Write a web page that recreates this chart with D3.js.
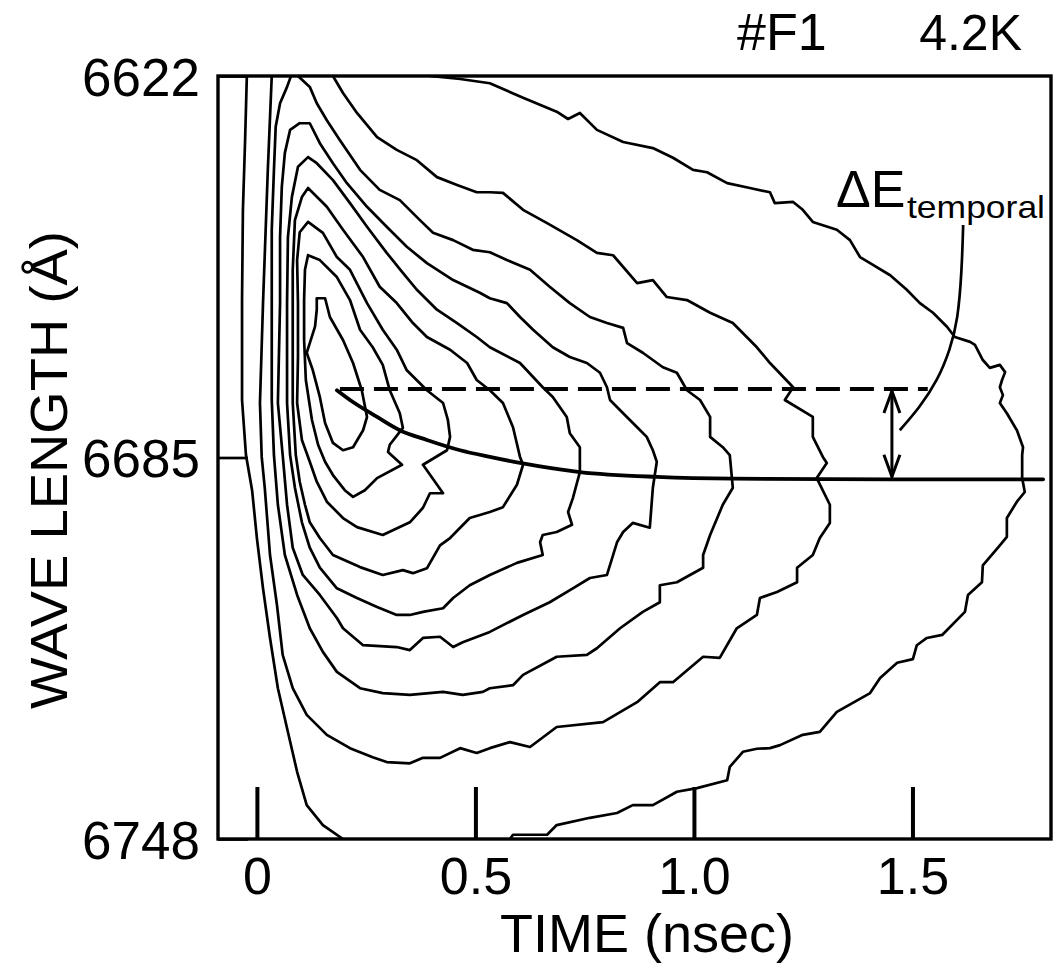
<!DOCTYPE html>
<html><head><meta charset="utf-8">
<script src="https://cdn.jsdelivr.net/npm/d3@7"></script>
<style>
body{margin:0;background:#fff}
svg{display:block}
text{font-family:"Liberation Sans",Arial,sans-serif;fill:#000}
</style>
</head><body>
<svg id="chart" width="1060" height="963"></svg>
<script>
// ---------- data (time in ns, wavelength in Å) ----------
const timeTicks = [0, 0.5, 1.0, 1.5];
const timeTickLabels = ["0", "0.5", "1.0", "1.5"];
const waveTicks = [6622, 6685, 6748];
const waveTickLabels = ["6622", "6685", "6748"];

// contour levels, innermost (1) to outermost (9)
const contour1 = [[0.137,6658.7],[0.156,6658.7],[0.167,6661.8],[0.197,6665.6],[0.220,6669.4],[0.240,6673.9],[0.252,6678.3],[0.243,6680.5],[0.220,6683.3],[0.197,6683.8],[0.174,6682.6],[0.156,6679.3],[0.144,6675.0],[0.128,6670.6],[0.114,6667.7],[0.121,6666.1],[0.133,6663.4],[0.137,6660.6],[0.137,6658.7]];
const contour2 = [[0.117,6651.6],[0.144,6652.4],[0.183,6655.2],[0.213,6659.0],[0.236,6663.9],[0.265,6666.8],[0.288,6669.7],[0.304,6673.9],[0.327,6677.7],[0.334,6680.1],[0.304,6682.9],[0.300,6684.1],[0.332,6686.2],[0.275,6688.4],[0.247,6690.4],[0.220,6691.5],[0.201,6690.4],[0.174,6687.9],[0.156,6685.7],[0.140,6682.9],[0.126,6678.8],[0.112,6672.2],[0.108,6665.6],[0.108,6659.0],[0.110,6654.0],[0.117,6651.6]];
const contour3 = [[0.117,6646.1],[0.151,6647.9],[0.183,6651.9],[0.213,6654.0],[0.252,6659.5],[0.288,6663.9],[0.320,6667.2],[0.343,6670.6],[0.389,6673.9],[0.426,6676.0],[0.437,6678.8],[0.442,6681.6],[0.435,6683.8],[0.380,6686.2],[0.426,6690.9],[0.396,6690.9],[0.380,6693.3],[0.350,6695.7],[0.288,6697.8],[0.229,6696.5],[0.197,6695.0],[0.160,6692.3],[0.137,6689.0],[0.121,6685.7],[0.103,6682.1],[0.092,6676.0],[0.094,6668.4],[0.094,6659.5],[0.092,6652.4],[0.098,6647.8],[0.117,6646.1]];
const contour4 = [[0.117,6640.5],[0.160,6643.6],[0.197,6647.4],[0.243,6651.9],[0.281,6656.8],[0.320,6659.5],[0.357,6662.8],[0.389,6665.1],[0.442,6667.2],[0.481,6669.4],[0.503,6672.2],[0.533,6673.9],[0.563,6676.0],[0.586,6680.0],[0.602,6684.9],[0.609,6686.2],[0.595,6689.5],[0.563,6693.2],[0.533,6694.0],[0.487,6695.0],[0.442,6698.3],[0.419,6699.5],[0.389,6703.3],[0.357,6704.1],[0.334,6703.6],[0.288,6704.4],[0.236,6703.1],[0.174,6701.1],[0.144,6698.3],[0.121,6695.7],[0.110,6692.8],[0.098,6689.0],[0.089,6684.6],[0.082,6676.0],[0.082,6665.1],[0.082,6654.0],[0.087,6645.8],[0.103,6642.0],[0.117,6640.5]];
const contour5 = [[0.117,6635.4],[0.137,6636.4],[0.174,6639.2],[0.213,6643.0],[0.252,6646.9],[0.297,6651.2],[0.334,6654.5],[0.366,6657.3],[0.412,6660.6],[0.458,6662.8],[0.503,6665.1],[0.533,6666.8],[0.602,6669.4],[0.654,6673.4],[0.677,6675.0],[0.709,6678.3],[0.716,6681.0],[0.739,6683.3],[0.739,6687.4],[0.723,6691.7],[0.712,6694.0],[0.721,6696.1],[0.686,6697.3],[0.654,6697.8],[0.648,6699.0],[0.654,6701.1],[0.595,6702.4],[0.533,6704.4],[0.487,6706.1],[0.449,6708.2],[0.426,6709.9],[0.380,6710.5],[0.350,6711.0],[0.320,6711.0],[0.275,6709.7],[0.229,6708.2],[0.183,6706.6],[0.144,6703.2],[0.121,6699.9],[0.103,6695.7],[0.087,6690.0],[0.076,6684.6],[0.069,6676.0],[0.069,6659.5],[0.071,6648.6],[0.080,6642.0],[0.094,6637.0],[0.117,6635.4]];
const contour6 = [[0.098,6629.8],[0.121,6629.8],[0.144,6633.1],[0.174,6636.4],[0.206,6639.7],[0.252,6643.6],[0.297,6646.9],[0.343,6650.2],[0.389,6652.9],[0.449,6655.7],[0.510,6657.8],[0.533,6658.7],[0.572,6659.5],[0.602,6661.8],[0.632,6663.9],[0.677,6666.8],[0.716,6668.4],[0.755,6669.4],[0.785,6671.0],[0.801,6673.4],[0.808,6675.5],[0.838,6677.7],[0.870,6680.0],[0.892,6681.6],[0.906,6683.8],[0.915,6685.7],[0.906,6690.0],[0.899,6696.6],[0.860,6695.8],[0.838,6697.3],[0.824,6699.0],[0.801,6704.4],[0.762,6704.9],[0.723,6706.6],[0.670,6708.9],[0.609,6711.0],[0.533,6713.8],[0.471,6715.5],[0.449,6716.3],[0.419,6714.6],[0.380,6714.8],[0.350,6716.8],[0.320,6716.3],[0.243,6716.0],[0.197,6713.2],[0.183,6711.5],[0.144,6707.7],[0.105,6704.4],[0.082,6699.9],[0.069,6692.8],[0.059,6684.6],[0.048,6676.0],[0.053,6659.5],[0.053,6648.6],[0.057,6640.3],[0.064,6634.7],[0.076,6630.9],[0.098,6629.8]];
const contour7 = [[0.078,6622.0],[0.069,6623.8],[0.053,6626.5],[0.043,6630.4],[0.039,6637.5],[0.034,6647.4],[0.034,6659.5],[0.034,6675.5],[0.039,6684.6],[0.048,6692.8],[0.064,6701.1],[0.092,6707.7],[0.121,6713.2],[0.151,6717.1],[0.183,6720.4],[0.236,6723.1],[0.288,6723.9],[0.350,6724.2],[0.426,6723.7],[0.471,6724.2],[0.517,6723.7],[0.533,6723.1],[0.586,6722.6],[0.609,6720.9],[0.686,6717.9],[0.755,6717.6],[0.778,6716.5],[0.831,6713.2],[0.883,6710.5],[0.922,6708.9],[0.922,6706.1],[0.961,6705.6],[1.021,6703.2],[1.021,6701.1],[1.037,6697.8],[1.066,6692.8],[1.089,6690.0],[1.082,6684.6],[1.066,6683.3],[1.037,6681.6],[1.037,6678.3],[1.014,6675.5],[0.984,6673.9],[0.961,6671.0],[0.929,6670.1],[0.883,6667.7],[0.847,6666.1],[0.838,6663.6],[0.801,6662.8],[0.762,6661.8],[0.716,6659.5],[0.670,6656.8],[0.625,6654.0],[0.572,6652.4],[0.533,6651.1],[0.494,6650.7],[0.449,6649.1],[0.403,6647.9],[0.373,6645.8],[0.327,6642.5],[0.281,6640.8],[0.236,6637.5],[0.190,6632.6],[0.160,6629.3],[0.137,6626.5],[0.121,6623.8],[0.094,6622.0]];
const contour8 = [[0.034,6622.0],[0.025,6637.5],[0.014,6659.5],[0.007,6676.0],[0.011,6684.9],[0.018,6690.0],[0.030,6701.1],[0.046,6709.4],[0.059,6717.6],[0.082,6723.1],[0.114,6727.5],[0.160,6730.8],[0.213,6733.0],[0.265,6734.5],[0.297,6735.3],[0.350,6735.5],[0.380,6734.6],[0.419,6734.6],[0.465,6733.0],[0.503,6733.8],[0.533,6733.0],[0.579,6732.0],[0.625,6732.8],[0.686,6729.5],[0.792,6728.7],[0.870,6725.4],[0.922,6722.1],[0.952,6722.1],[1.021,6717.9],[1.059,6718.1],[1.098,6713.2],[1.144,6711.0],[1.151,6708.2],[1.190,6707.2],[1.236,6705.6],[1.236,6703.2],[1.272,6701.1],[1.288,6698.3],[1.311,6695.8],[1.311,6692.8],[1.281,6688.4],[1.304,6685.9],[1.295,6684.9],[1.272,6681.6],[1.272,6678.3],[1.208,6675.5],[1.227,6673.4],[1.174,6669.4],[1.144,6666.8],[1.089,6662.8],[1.037,6661.1],[0.984,6659.0],[0.938,6658.5],[0.906,6655.7],[0.870,6656.2],[0.815,6651.6],[0.778,6651.2],[0.732,6649.1],[0.664,6646.3],[0.609,6644.1],[0.563,6641.3],[0.533,6641.2],[0.503,6641.2],[0.458,6640.0],[0.412,6638.7],[0.366,6635.9],[0.320,6634.2],[0.275,6632.1],[0.229,6628.1],[0.197,6624.8],[0.174,6622.0]];
const contour9Left = [[-0.023,6622.0],[-0.027,6632.6],[-0.032,6644.1],[-0.034,6659.0],[-0.034,6675.5],[-0.025,6684.6],[-0.011,6690.4],[0.000,6698.3],[0.014,6706.6],[0.030,6714.8],[0.048,6723.1],[0.069,6729.7],[0.092,6736.9],[0.114,6742.4],[0.151,6745.7],[0.197,6748.0]];
const contour9Right = [[0.396,6622.0],[0.465,6622.5],[0.533,6623.2],[0.609,6625.6],[0.686,6627.9],[0.712,6629.1],[0.739,6628.1],[0.778,6630.9],[0.838,6632.9],[0.906,6633.9],[0.952,6635.5],[0.998,6637.5],[1.030,6637.9],[1.076,6639.7],[1.128,6640.5],[1.174,6641.2],[1.185,6643.0],[1.227,6642.8],[1.249,6644.1],[1.272,6646.1],[1.327,6647.4],[1.357,6649.1],[1.380,6651.9],[1.403,6652.9],[1.449,6654.9],[1.487,6657.3],[1.517,6659.5],[1.547,6661.1],[1.579,6663.4],[1.597,6665.1],[1.632,6665.9],[1.643,6666.4],[1.661,6668.9],[1.677,6670.2],[1.700,6669.7],[1.712,6670.9],[1.705,6672.2],[1.700,6673.4],[1.707,6674.7],[1.700,6676.0],[1.716,6677.7],[1.739,6680.5],[1.753,6683.3],[1.751,6684.6],[1.751,6688.4],[1.757,6690.7],[1.739,6692.3],[1.716,6695.0],[1.716,6698.1],[1.700,6699.5],[1.661,6702.8],[1.659,6705.6],[1.627,6707.7],[1.620,6710.5],[1.568,6714.3],[1.533,6714.8],[1.510,6716.0],[1.501,6718.3],[1.465,6718.9],[1.426,6721.4],[1.403,6723.9],[1.327,6727.0],[1.288,6730.3],[1.249,6730.8],[1.197,6732.5],[1.174,6733.0],[1.144,6733.1],[1.112,6733.6],[1.082,6736.1],[1.076,6738.3],[1.007,6739.6],[0.961,6740.2],[0.906,6742.4],[0.860,6742.4],[0.824,6743.7],[0.762,6744.5],[0.686,6745.7],[0.664,6747.3],[0.586,6747.3],[0.579,6748.0]];

// peak-position decay curve
const peakTimes  = [0.183,0.213,0.275,0.327,0.389,0.465,0.533,0.602,0.739,0.915,1.089,1.471,1.799];
const peakWaves  = [6673.9,6675.5,6678.3,6680.5,6682.1,6683.8,6684.9,6685.9,6687.4,6688.2,6688.5,6688.6,6688.6];
// initial peak level (dashed) and ΔE arrow
const dashedLevel = 6673.7;
const dashedRange = [0.19, 1.535];
const arrowTime = 1.453;
const arrowRange = [6673.7, 6688.5];
// leader line from label to arrow
const leaderPts = [[1.616,6646.6],[1.613,6654.0],[1.604,6662.3],[1.586,6667.2],[1.558,6672.2],[1.517,6676.7],[1.471,6680.5]];

// ---------- drawing ----------
const svg = d3.select("#chart");
const x = d3.scaleLinear().domain([-0.089, 1.817]).range([218, 1051]);
const y = d3.scaleLinear().domain([6622, 6748]).range([76, 839]);

svg.append("defs").append("clipPath").attr("id","clip")
  .append("rect").attr("x",x.range()[0]).attr("y",y.range()[0])
  .attr("width",x.range()[1]-x.range()[0]).attr("height",y.range()[1]-y.range()[0]);

const line = d3.line().x(d=>x(d[0])).y(d=>y(d[1])).curve(d3.curveLinear);
const contours = [contour1,contour2,contour3,contour4,contour5,contour6,contour7,contour8,contour9Left,contour9Right];
const g = svg.append("g").attr("clip-path","url(#clip)");
g.selectAll("path.contour").data(contours).join("path")
  .attr("class","contour").attr("d",line)
  .attr("fill","none").attr("stroke","#000").attr("stroke-width",2.7)
  .attr("stroke-linejoin","round").attr("stroke-linecap","round");

// decay curve
const peakData = peakTimes.map((t,i)=>[t,peakWaves[i]]);
svg.append("path").attr("d", d3.line().x(d=>x(d[0])).y(d=>y(d[1])).curve(d3.curveMonotoneX)(peakData))
  .attr("fill","none").attr("stroke","#000").attr("stroke-width",3.8).attr("stroke-linecap","round");

// dashed line
svg.append("line").attr("x1",x(dashedRange[0])).attr("x2",x(dashedRange[1]))
  .attr("y1",y(dashedLevel)).attr("y2",y(dashedLevel))
  .attr("stroke","#000").attr("stroke-width",4).attr("stroke-dasharray","24,10");

// double arrow
const ax = x(arrowTime), ay1 = y(arrowRange[0]), ay2 = y(arrowRange[1]);
svg.append("line").attr("x1",ax).attr("x2",ax).attr("y1",ay1+2).attr("y2",ay2-2)
  .attr("stroke","#000").attr("stroke-width",3);
svg.append("path").attr("d",`M${ax-8},${ay1+24} L${ax},${ay1+2} L${ax+8},${ay1+24}`)
  .attr("fill","none").attr("stroke","#000").attr("stroke-width",3).attr("stroke-linejoin","miter");
svg.append("path").attr("d",`M${ax-8},${ay2-24} L${ax},${ay2-2} L${ax+8},${ay2-24}`)
  .attr("fill","none").attr("stroke","#000").attr("stroke-width",3).attr("stroke-linejoin","miter");

// leader
svg.append("path").attr("d", d3.line().x(d=>x(d[0])).y(d=>y(d[1])).curve(d3.curveBasis)(leaderPts))
  .attr("fill","none").attr("stroke","#000").attr("stroke-width",2.7);

// frame
svg.append("rect").attr("x",x.range()[0]).attr("y",y.range()[0])
  .attr("width",x.range()[1]-x.range()[0]).attr("height",y.range()[1]-y.range()[0])
  .attr("fill","none").attr("stroke","#000").attr("stroke-width",3.4);

// x axis
const xAxis = d3.axisBottom(x).tickValues(timeTicks).tickFormat((d,i)=>timeTickLabels[i])
  .tickSizeInner(-52).tickSizeOuter(0).tickPadding(18);
const gx = svg.append("g").attr("transform",`translate(0,${y.range()[1]})`).call(xAxis);
gx.select(".domain").remove();
gx.selectAll(".tick line").attr("stroke","#000").attr("stroke-width",4);
gx.selectAll(".tick text").attr("font-size",52).attr("font-family","Liberation Sans, Arial, sans-serif").attr("fill","#000");

// y axis
const yAxis = d3.axisLeft(y).tickValues(waveTicks).tickFormat((d,i)=>waveTickLabels[i])
  .tickSizeInner(-30).tickSizeOuter(0).tickPadding(18);
const gy = svg.append("g").attr("transform",`translate(${x.range()[0]},0)`).call(yAxis);
gy.select(".domain").remove();
gy.selectAll(".tick line").attr("stroke","#000").attr("stroke-width",2.7);
gy.selectAll(".tick text").attr("font-size",53).attr("font-family","Liberation Sans, Arial, sans-serif").attr("fill","#000").attr("dy","0.36em");

// titles
svg.append("text").attr("x",647).attr("y",952).attr("text-anchor","middle")
  .attr("font-size",54).text("TIME (nsec)");
svg.append("text").attr("transform","translate(67,470) rotate(-90)").attr("text-anchor","middle")
  .attr("font-size",52).attr("textLength",478).attr("lengthAdjust","spacingAndGlyphs").text("WAVE LENGTH (Å)");
svg.append("text").attr("x",737).attr("y",50).attr("font-size",52).text("#F1");
svg.append("text").attr("x",1022).attr("y",50).attr("text-anchor","end").attr("font-size",50).text("4.2K");
svg.append("text").attr("x",836).attr("y",207).attr("font-size",52).text("ΔE");
svg.append("text").attr("x",907).attr("y",218).attr("font-size",32)
  .attr("textLength",138).attr("lengthAdjust","spacingAndGlyphs").text("temporal");
</script>
</body></html>
